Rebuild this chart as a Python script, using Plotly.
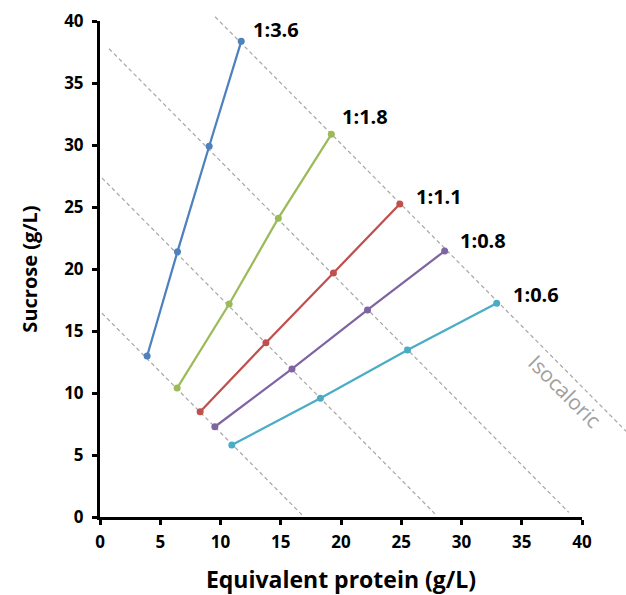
import plotly.graph_objects as go

# ---- data ----
series_names = ["1:3.6", "1:1.8", "1:1.1", "1:0.8", "1:0.6"]
series_colors = ["#4F81BD", "#9BBB59", "#C0504D", "#8064A2", "#4BACC6"]

protein_36 = [3.91, 6.43, 9.06, 11.72]
sucrose_36 = [12.98, 21.40, 29.90, 38.36]
protein_18 = [6.40, 10.72, 14.80, 19.20]
sucrose_18 = [10.40, 17.18, 24.10, 30.86]
protein_11 = [8.31, 13.77, 19.37, 24.88]
sucrose_11 = [8.49, 14.06, 19.68, 25.24]
protein_08 = [9.53, 15.93, 22.20, 28.60]
sucrose_08 = [7.28, 11.94, 16.70, 21.45]
protein_06 = [10.94, 18.29, 25.52, 32.92]
sucrose_06 = [5.81, 9.57, 13.47, 17.23]

xs = [protein_36, protein_18, protein_11, protein_08, protein_06]
ys = [sucrose_36, sucrose_18, sucrose_11, sucrose_08, sucrose_06]

# isocaloric lines: sucrose = intercept + slope * protein
iso_intercepts = [16.6, 27.5, 38.5, 49.7]
iso_slope = -0.98
iso_x_start = [0.17, 0.17, 0.75, 9.55]
iso_x_end = [16.94, 27.8, 38.9, 43.9]

x_ticks = [0, 5, 10, 15, 20, 25, 30, 35, 40]
y_ticks = [0, 5, 10, 15, 20, 25, 30, 35, 40]
X_RANGE = [0, 40]
Y_RANGE = [0, 40]

# label offsets (pixels) relative to the last point of each series
label_dx = [10, 9, 14, 13, 14]
label_dy = [12, 18, 8, 11, 9]

FONT = "Open Sans"

fig = go.Figure()

for name, color, x, y in zip(series_names, series_colors, xs, ys):
    fig.add_trace(go.Scatter(
        x=x, y=y, mode="lines+markers", name=name,
        line=dict(color=color, width=2.25),
        marker=dict(color=color, size=7),
        showlegend=False,
    ))


def xdom(v):
    return (v - X_RANGE[0]) / (X_RANGE[1] - X_RANGE[0])


def ydom(v):
    return (v - Y_RANGE[0]) / (Y_RANGE[1] - Y_RANGE[0])


shapes = []
for c, x0, x1 in zip(iso_intercepts, iso_x_start, iso_x_end):
    y0 = c + iso_slope * x0
    y1 = c + iso_slope * x1
    shapes.append(dict(
        type="line", xref="x domain", yref="y domain",
        x0=xdom(x0), y0=ydom(y0), x1=xdom(x1), y1=ydom(y1),
        line=dict(color="#A6A6A6", width=1.2, dash="4px,3px"),
        layer="below",
    ))

annotations = []
for name, x, y, dx, dy in zip(series_names, xs, ys, label_dx, label_dy):
    annotations.append(dict(
        x=x[-1], y=y[-1], xref="x", yref="y", text=name, showarrow=False,
        xanchor="left", yanchor="middle", xshift=dx, yshift=dy,
        font=dict(family=FONT, size=20, color="black", weight="bold"),
    ))

annotations.append(dict(
    x=38.57, y=10.16, xref="x", yref="y", text="Isocaloric", showarrow=False,
    textangle=45, xanchor="center", yanchor="middle",
    font=dict(family=FONT, size=21, color="#A0A0A0"),
))

fig.update_layout(
    width=626, height=595,
    margin=dict(l=100, r=44, t=21, b=78),
    paper_bgcolor="white", plot_bgcolor="white",
    font=dict(family=FONT, color="black"),
    shapes=shapes, annotations=annotations,
    xaxis=dict(
        range=X_RANGE, tickvals=x_ticks, showgrid=False, zeroline=False,
        automargin=False,
        showline=True, linecolor="black", linewidth=3,
        ticks="outside", ticklen=5, tickwidth=3, tickcolor="black",
        ticklabelstandoff=3,
        tickfont=dict(family=FONT, size=17, color="black", weight="bold"),
        title=dict(text="Equivalent protein (g/L)", standoff=20,
                   font=dict(family=FONT, size=23, color="black", weight="bold")),
    ),
    yaxis=dict(
        range=Y_RANGE, tickvals=y_ticks, showgrid=False, zeroline=False,
        automargin=False,
        showline=True, linecolor="black", linewidth=3,
        ticks="outside", ticklen=5, tickwidth=3, tickcolor="black",
        ticklabelstandoff=5,
        tickfont=dict(family=FONT, size=17, color="black", weight="bold"),
        title=dict(text="Sucrose (g/L)", standoff=22,
                   font=dict(family=FONT, size=20, color="black", weight="bold")),
    ),
)

fig.write_html("out.html")
